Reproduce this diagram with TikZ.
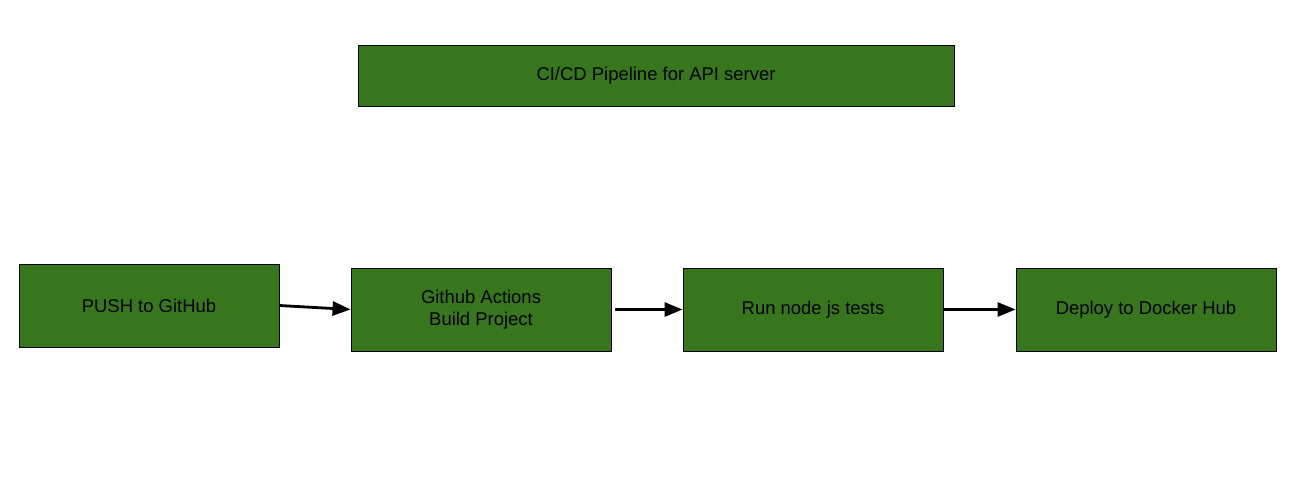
\documentclass[tikz,border=0pt]{standalone}
\usepackage{fontspec}
\setmainfont{Liberation Sans}
\usetikzlibrary{arrows.meta}
\definecolor{stagegreen}{HTML}{38761D}
\tikzset{
    stage/.style={draw=black, line width=.5pt, fill=stagegreen, minimum width=5.2cm, minimum height=1.66cm, align=center, font=\fontsize{10.5}{12.5}\selectfont},
    flow/.style={-{Triangle[length=.36cm, width=.28cm]}, line width=1.6pt}
}
\begin{document}
\begin{tikzpicture}[>=latex]
\useasboundingbox (0,0) rectangle (26.26,-9.72);
\node[stage, minimum width=11.92cm, minimum height=1.22cm] (title) at (13.12,-1.51) {CI/CD Pipeline for API server};

\node[stage] (push) at (2.98,-6.11) {PUSH to GitHub};
\node[stage] (build) at (9.62,-6.19) {Github Actions\\Build Project};
\node[stage] (tests) at (16.26,-6.19) {Run node js tests};
\node[stage] (deploy) at (22.92,-6.19) {Deploy to Docker Hub};

\draw[flow] (push.east)--(build.west);
\draw[flow] ([xshift=.08cm]build.east)--(tests.west);
\draw[flow] (tests.east)--(deploy.west);
\end{tikzpicture}
\end{document}
